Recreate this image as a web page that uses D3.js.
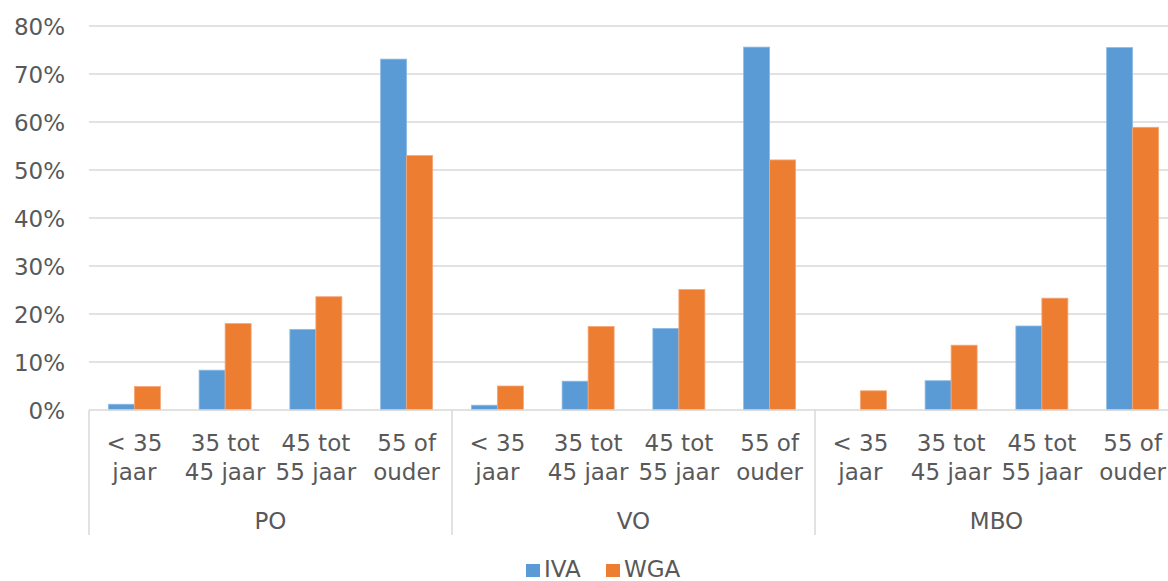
<!DOCTYPE html>
<html>
<head>
<meta charset="utf-8">
<script src="https://cdn.jsdelivr.net/npm/d3@7"></script>
<style>
  body { margin: 0; background: #fff; overflow: hidden; }
  svg { display: block; font-family: "DejaVu Sans", Verdana, sans-serif; }
  .lbl { fill: #595959; font-size: 23px; }
</style>
</head>
<body>
<svg id="chart" width="1168" height="581"></svg>
<script>
// Data
const groups = ["PO", "VO", "MBO"];
const ages = [["< 35", "jaar"], ["35 tot", "45 jaar"], ["45 tot", "55 jaar"], ["55 of", "ouder"]];
const series = ["IVA", "WGA"];
const colors = ["#5B9BD5", "#ED7D31"];
const ivaValues = [0.012, 0.083, 0.168, 0.731, 0.010, 0.060, 0.170, 0.756, 0.000, 0.061, 0.175, 0.755];
const wgaValues = [0.049, 0.180, 0.236, 0.530, 0.050, 0.174, 0.251, 0.521, 0.040, 0.135, 0.233, 0.589];
const yTicks = [0, 0.1, 0.2, 0.3, 0.4, 0.5, 0.6, 0.7, 0.8];

const svg = d3.select("#chart");

// Layout (plot runs past the right edge, as in the original)
const plotLeft = 89, plotRight = 1178, plotTop = 26, plotBottom = 410;

const y = d3.scaleLinear().domain([0, 0.8]).range([plotBottom, plotTop]);
const x0 = d3.scaleBand().domain(groups).range([plotLeft, plotRight]);
const x1 = d3.scaleBand().domain(d3.range(ages.length)).range([0, x0.bandwidth()]);
const x2 = d3.scaleBand().domain(series).range([0, x1.bandwidth()]).paddingOuter(0.745);

// Gridlines
svg.append("g")
  .selectAll("line")
  .data(yTicks.slice(1))
  .join("line")
    .attr("x1", plotLeft).attr("x2", plotRight)
    .attr("y1", d => y(d)).attr("y2", d => y(d))
    .attr("stroke", "#d9d9d9").attr("stroke-width", 1.5);

// Y axis labels
const yAxis = svg.append("g")
  .attr("transform", `translate(${plotLeft - 24},0)`)
  .call(d3.axisLeft(y).tickValues(yTicks).tickSize(0).tickPadding(0).tickFormat(d3.format(".0%")));
yAxis.select(".domain").remove();
yAxis.attr("font-size", null).attr("font-family", null);
yAxis.selectAll("text").attr("class", "lbl").attr("dy", "0.36em");

// Bars
const rows = [];
groups.forEach((g, gi) => {
  ages.forEach((a, ai) => {
    const k = gi * ages.length + ai;
    rows.push({ g, ai, s: "IVA", v: ivaValues[k] });
    rows.push({ g, ai, s: "WGA", v: wgaValues[k] });
  });
});

svg.append("g")
  .selectAll("rect")
  .data(rows.filter(d => d.v > 0))
  .join("rect")
    .attr("x", d => x0(d.g) + x1(d.ai) + x2(d.s))
    .attr("width", x2.bandwidth())
    .attr("y", d => y(d.v))
    .attr("height", d => y(0) - y(d.v))
    .attr("fill", d => colors[series.indexOf(d.s)])
    .attr("stroke", d => d.s === "IVA" ? "#8dbbe6" : "#f4a77a")
    .attr("stroke-width", 0.8);

// X axis line
svg.append("line")
  .attr("x1", plotLeft).attr("x2", plotRight)
  .attr("y1", plotBottom).attr("y2", plotBottom)
  .attr("stroke", "#d9d9d9").attr("stroke-width", 1.5);

// Group separators
svg.append("g")
  .selectAll("line")
  .data(groups.map(g => x0(g)).concat([plotRight]))
  .join("line")
    .attr("x1", d => d).attr("x2", d => d)
    .attr("y1", plotBottom).attr("y2", 535)
    .attr("stroke", "#d9d9d9").attr("stroke-width", 1.5);

// Category labels
const cat = svg.append("g");
groups.forEach(g => {
  ages.forEach((a, ai) => {
    const cx = x0(g) + x1(ai) + x1.bandwidth() / 2;
    const t = cat.append("text").attr("class", "lbl").attr("text-anchor", "middle");
    t.append("tspan").attr("x", cx).attr("y", 451).text(a[0]);
    t.append("tspan").attr("x", cx).attr("y", 480).text(a[1]);
  });
});

// Group labels
svg.append("g")
  .selectAll("text")
  .data(groups)
  .join("text")
    .attr("class", "lbl")
    .attr("text-anchor", "middle")
    .attr("x", d => x0(d) + x0.bandwidth() / 2)
    .attr("y", 529)
    .text(d => d);

// Legend
const legend = svg.append("g");
const legX = [526, 606];
series.forEach((s, i) => {
  legend.append("rect")
    .attr("x", legX[i]).attr("y", 564)
    .attr("width", 14).attr("height", 13)
    .attr("fill", colors[i]);
  legend.append("text")
    .attr("class", "lbl")
    .attr("x", legX[i] + 18).attr("y", 577)
    .text(s);
});
</script>
</body>
</html>
